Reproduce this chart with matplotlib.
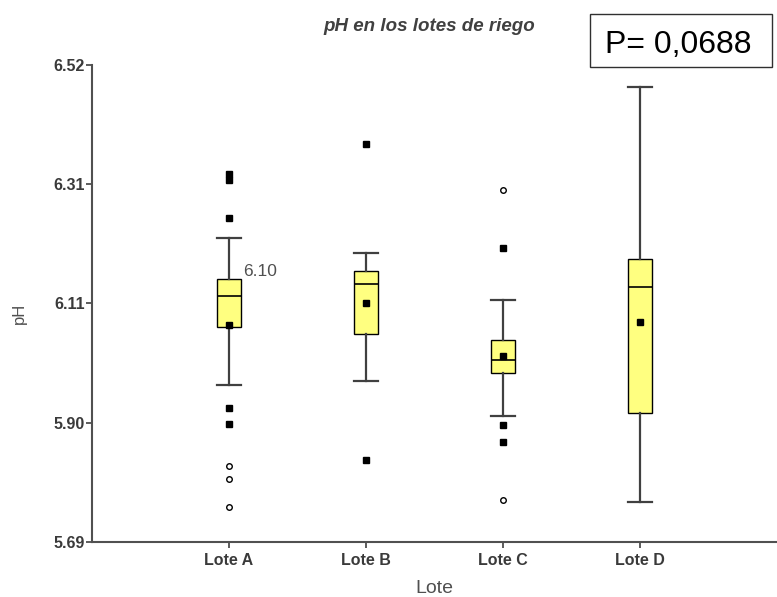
import matplotlib
matplotlib.use("Agg")
import matplotlib.pyplot as plt
import numpy as np
from matplotlib.patches import Rectangle

# ---- data ----
categories = ["Lote A", "Lote B", "Lote C", "Lote D"]
q1 = [6.064, 6.052, 5.983, 5.914]
med = [6.118, 6.138, 6.006, 6.134]
q3 = [6.147, 6.161, 6.042, 6.182]
whislo = [5.963, 5.970, 5.909, 5.760]
whishi = [6.219, 6.192, 6.111, 6.482]
means = [6.068, 6.106, 6.013, 6.073]
outliers_filled = [[6.330, 6.319, 6.253, 5.923, 5.895],
                   [6.382, 5.833],
                   [6.201, 5.893, 5.864],
                   []]
outliers_open = [[5.821, 5.800, 5.751],
                 [],
                 [6.302, 5.763],
                 []]
ytick_labels = ["5.69", "5.90", "6.11", "6.31", "6.52"]
y_min, y_max = 5.69, 6.52
annot_text = "6.10"
annot_y = 6.160
title = "pH en los lotes de riego"
pvalue_text = "P= 0,0688"

plt.rcParams['font.family'] = ['Liberation Sans', 'DejaVu Sans']

fig = plt.figure(figsize=(7.77, 5.97), dpi=100)
ax = fig.add_axes([0.1184, 0.0926, 0.8816, 0.7985])

positions = np.arange(1, len(categories) + 1)
stats = []
for i, c in enumerate(categories):
    stats.append(dict(label=c, q1=q1[i], med=med[i], q3=q3[i],
                      whislo=whislo[i], whishi=whishi[i], mean=means[i], fliers=[]))

gray = "#404040"
ax.bxp(stats, positions=positions, widths=0.168, capwidths=0.168,
       patch_artist=True, showmeans=True, showfliers=False,
       boxprops=dict(facecolor="#ffff80", edgecolor="black", linewidth=1.0),
       whiskerprops=dict(color=gray, linewidth=1.6),
       capprops=dict(color=gray, linewidth=1.6),
       medianprops=dict(color="black", linewidth=1.2),
       meanprops=dict(marker="s", markerfacecolor="black", markeredgecolor="black",
                      markersize=5))

for i, p in enumerate(positions):
    if outliers_filled[i]:
        ax.plot([p] * len(outliers_filled[i]), outliers_filled[i], linestyle="none",
                marker="s", markersize=4.5, markerfacecolor="black",
                markeredgecolor="black", zorder=4)
    if outliers_open[i]:
        ax.plot([p] * len(outliers_open[i]), outliers_open[i], linestyle="none",
                marker="o", markersize=4, markerfacecolor="white",
                markeredgecolor="black", markeredgewidth=1.0, zorder=4)

ax.text(1.105, annot_y, annot_text, fontsize=12.5, color="#505050", va="center", ha="left")

ax.set_xlim(0, 5)
ax.set_ylim(y_min, y_max)
ax.set_yticks(np.linspace(y_min, y_max, len(ytick_labels)))
ax.set_yticklabels(ytick_labels, fontsize=11.5, fontweight="bold", color="#3a3a3a")
ax.set_xticks(positions)
ax.set_xticklabels(categories, fontsize=11.5, fontweight="bold", color="#3a3a3a")
ax.tick_params(axis="both", direction="out", length=4, width=1.2, color=gray)
ax.tick_params(axis="y", pad=1)
ax.tick_params(axis="x", pad=4)

for s in ["top", "right"]:
    ax.spines[s].set_visible(False)
for s in ["left", "bottom"]:
    ax.spines[s].set_color("#505050")
    ax.spines[s].set_linewidth(1.5)

ax.set_xlabel("Lote", fontsize=14, color="#505050")
ax.xaxis.set_label_coords(0.5, -0.08)
ax.set_ylabel("pH", fontsize=12, color="#505050")
ax.yaxis.set_label_coords(-0.095, 0.48)

fig.text(0.553, 0.955, title, fontsize=13.5, fontweight="bold", fontstyle="italic",
         color="#404040", ha="center", va="center")

fig.patches.append(Rectangle((0.759, 0.888), 0.234, 0.088, transform=fig.transFigure,
                             facecolor="white", edgecolor="#303030", linewidth=1.0))
fig.text(0.779, 0.911, pvalue_text, fontsize=23, color="black", ha="left", va="baseline")

fig.savefig("out.png", dpi=100)
